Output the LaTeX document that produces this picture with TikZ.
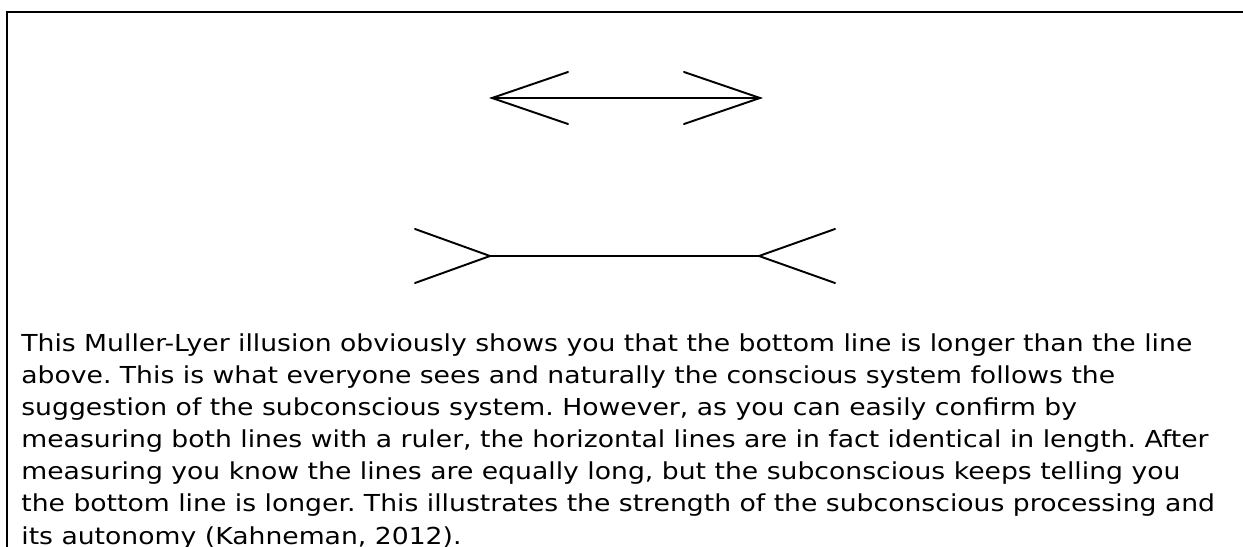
\documentclass[tikz,border=0pt]{standalone}
\usepackage{fontspec}
\setmainfont[FakeStretch=1.14]{DejaVu Sans}
\usepackage{tikz}

\tikzset{
    fin/.style={line width=1.1pt, line cap=round, line join=miter},
    frame/.style={line width=1.2pt},
    caption/.style={anchor=north west, inner sep=0pt, align=left,
        font=\fontsize{13.3}{18.3}\selectfont}
}

\begin{document}
\frenchspacing
\begin{tikzpicture}[x=0.02cm, y=-0.02cm]
    \useasboundingbox (0,0) rectangle (1243,547);
    \clip (0,0) rectangle (1243,547);

    % frame, open at the right and at the bottom
    \draw[frame](7,560)|-(1250,12);

    % upper line, fins pointing outwards
    \coordinate (uL) at (492,98);
    \coordinate (uR) at (760,98);
    \draw[fin](uL)--(uR);
    \draw[fin](568,72)--(uL)--(568,124);
    \draw[fin](684,72)--(uR)--(684,124);

    % lower line, fins pointing inwards
    \coordinate (lL) at (490,256);
    \coordinate (lR) at (759,256);
    \draw[fin](lL)--(lR);
    \draw[fin](415,229)--(lL)--(415,283);
    \draw[fin](835,229)--(lR)--(835,283);

    \node[caption] (text) at (21,333) {This Muller-Lyer illusion obviously shows you that the bottom line is longer than the line\\
above. This is what everyone sees and naturally the conscious system follows the\\
suggestion of the subconscious system. However, as you can easily confirm by\\
measuring both lines with a ruler, the horizontal lines are in fact identical in length. After\\
measuring you know the lines are equally long, but the subconscious keeps telling you\\
the bottom line is longer. This illustrates the strength of the subconscious processing and\\
its autonomy (Kahneman, 2012).};
\end{tikzpicture}
\end{document}
